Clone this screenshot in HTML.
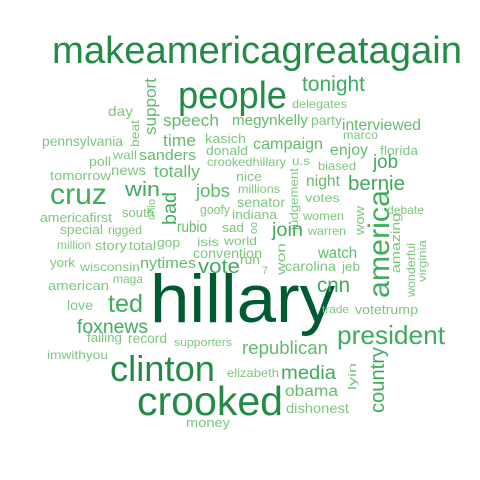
<!DOCTYPE html>
<html><head><meta charset="utf-8"><style>
html,body{margin:0;padding:0;background:#fff;width:480px;height:480px;overflow:hidden}
svg text{font-family:"Liberation Sans",Arial,sans-serif}
</style></head><body>
<svg id="cloud" width="480" height="480" xmlns="http://www.w3.org/2000/svg">
<rect width="480" height="480" fill="#fff"/>
</svg>
<script>
// word, x, y(baseline), size, rotated, width
const words=[
["makeamericagreatagain",52,63,38,0,410],["people",178,108,38,0,109],["hillary",150,322,68,0,185],
["crooked",137,415,41,0,146],["clinton",110,381,36,0,105],["america",389,298,30,1,108],
["president",337,344,26,0,108],["cruz",50,204,30,0,57],["cnn",317,292,21,0,33],["ted",108,312,25,0,35],
["foxnews",77,333,19,0,71],["tonight",302,91,21,0,63],["delegates",292,108,12,0,55],
["support",156,135,17,1,57],["day",108,116,14,0,25],["beat",139,147,12,1,27],["speech",163,126,17,0,56],
["megynkelly",232,125,15,0,76],["party",311,125,14,0,31],["interviewed",342,130,16,0,79],
["pennsylvania",42,146,14,0,81],["time",163,146,17,0,33],["kasich",205,143,13,0,41],["marco",343,139,12,0,35],
["donald",206,155,13,0,42],["campaign",253,149,16,0,70],["enjoy",330,155,16,0,38],["florida",380,155,13,0,38],
["sanders",139,160,15,0,57],["wall",113,159,12,0,24],["poll",89,166,13,0,22],["crookedhillary",207,166,12,0,79],
["u.s",292,165,12,0,18],["biased",318,170,12,0,38],["job",373,168,19,0,25],["news",111,175,14,0,35],
["totally",154,177,17,0,46],["tomorrow",50,180,13,0,61],["judgement",298,230,12,1,62],["nice",236,181,13,0,26],
["night",306,186,16,0,34],["bernie",348,190,20,0,57],["millions",238,193,12,0,42],["jobs",196,197,18,0,34],
["win",125,196,20,0,35],["bad",176,225,19,1,33],["ohio",155,220,11,1,21],["votes",305,202,12,0,35],
["senator",237,207,14,0,48],["goofy",200,214,13,0,30],["indiana",232,219,13,0,45],["debate",387,214,12,0,37],
["south",122,217,13,0,32],["americafirst",40,222,13,0,72],["women",303,220,12,0,41],["wow",364,235,13,1,29],
["rubio",177,232,16,0,30],["sad",222,232,13,0,22],["oo",257,234,11,1,12],["special",60,234,13,0,43],
["rigged",108,234,12,0,34],["join",272,236,19,0,31],["warren",308,235,12,0,38],["amazing",400,273,13,1,60],
["wonderful",415,297,12,1,54],["virginia",426,282,11,1,42],["isis",197,246,12,0,22],["world",224,245,12,0,33],
["million",57,249,12,0,34],["story",95,250,13,0,32],["total",129,250,13,0,27],["gop",157,247,13,0,23],
["convention",193,258,14,0,69],["watch",318,258,16,0,39],["won",285,275,12,1,32],["york",50,267,13,0,25],
["wisconsin",80,271,12,0,60],["nytimes",140,268,15,0,56],["vote",198,273,20,0,42],["run",240,264,13,0,20],
["7",262,274,11,0,6],["carolina",285,271,14,0,51],["jeb",342,271,13,0,18],["maga",113,283,12,0,30],
["american",48,290,13,0,61],["love",67,310,14,0,26],["trade",322,313,11,0,27],["votetrump",355,314,13,0,63],
["failing",87,342,13,0,35],["record",128,343,14,0,39],["supporters",174,346,11,0,58],["republican",242,354,18,0,86],
["imwithyou",47,359,12,0,61],["elizabeth",227,377,12,0,52],["media",281,379,19,0,55],["lyin",356,390,11,1,27],
["country",384,413,20,1,66],["obama",285,396,16,0,53],["dishonest",286,413,14,0,63],["money",186,427,13,0,44]
];
const svg=document.getElementById('cloud');
function col(s){return s>=60?'#005a32':s>=34?'#238b45':s>=19?'#41ab5d':s>=15?'#62bb6d':'#7cc67e';}
for(const w of words){
  const t=document.createElementNS('http://www.w3.org/2000/svg','text');
  
  
  t.setAttribute('x',w[1]);t.setAttribute('y',w[2]);
  t.setAttribute('font-size',w[3]);
  t.setAttribute('fill',col(w[3]));
  t.setAttribute('textLength',w[5]);
  t.setAttribute('lengthAdjust','spacingAndGlyphs');
  if(w[4])t.setAttribute('transform','rotate(-90 '+w[1]+' '+w[2]+')');
  t.textContent=w[0];
  svg.appendChild(t);
}
</script>
</body></html>
